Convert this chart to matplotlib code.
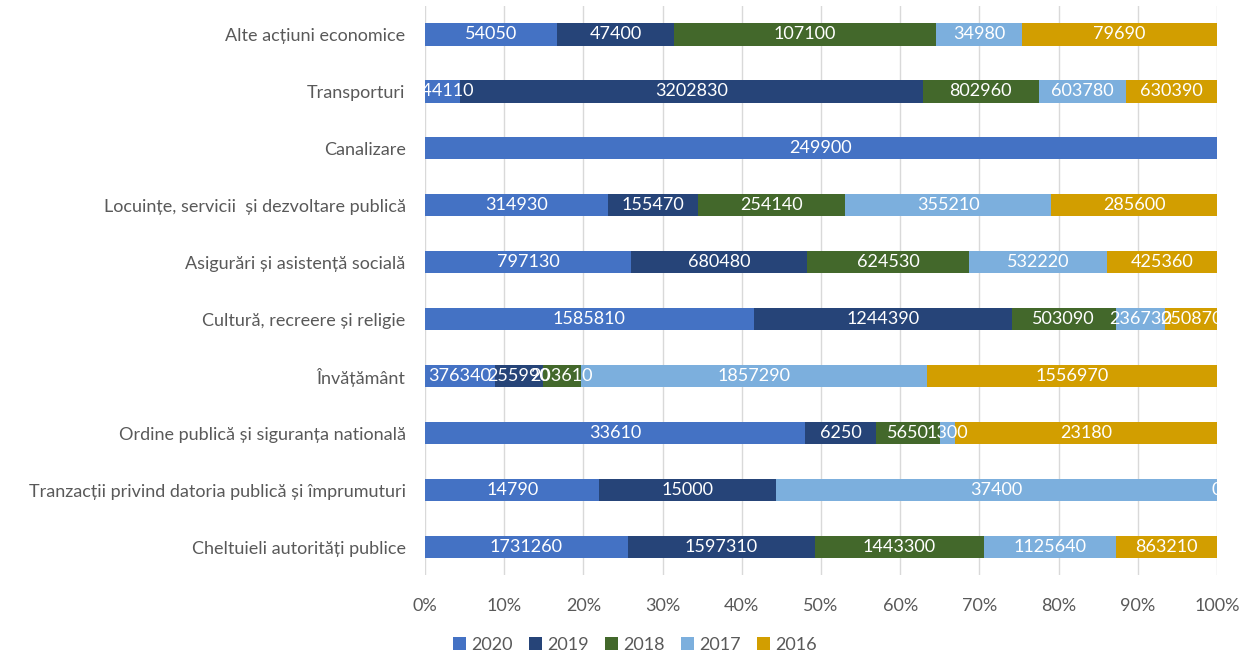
import numpy as np
import matplotlib
matplotlib.use("Agg")
import matplotlib.pyplot as plt

# ----------------------------
# Data (top row first, as in the picture)
# ----------------------------
categories = [
    "Alte acțiuni economice",
    "Transporturi",
    "Canalizare",
    "Locuințe, servicii  și dezvoltare publică",
    "Asigurări și asistență socială",
    "Cultură, recreere și religie",
    "Învățământ",
    "Ordine publică și siguranța natională",
    "Tranzacții privind datoria publică și împrumuturi",
    "Cheltuieli autorități publice",
]
years = ["2020", "2019", "2018", "2017", "2016"]

v2020 = [54050, 244110, 249900, 314930, 797130, 1585810, 376340, 33610, 14790, 1731260]
v2019 = [47400, 3202830, None, 155470, 680480, 1244390, 255990, 6250, 15000, 1597310]
v2018 = [107100, 802960, None, 254140, 624530, 503090, 203610, 5650, None, 1443300]
v2017 = [34980, 603780, None, 355210, 532220, 236730, 1857290, 1300, 37400, 1125640]
v2016 = [79690, 630390, None, 285600, 425360, 250870, 1556970, 23180, 0, 863210]

colors = ["#4472C4", "#264478", "#43682B", "#7CAFDD", "#D29E00"]

# ----------------------------
# Plot styling
# ----------------------------
plt.rcParams["font.family"] = ["Lato", "DejaVu Sans"]
plt.rcParams["font.size"] = 13

fig = plt.figure(figsize=(12.5, 6.58), dpi=100)
ax = fig.add_axes([0.34, 0.1254, 0.6336, 0.8655])

series = [v2020, v2019, v2018, v2017, v2016]
raw = np.array([[np.nan if v is None else v for v in s] for s in series], dtype=float)
totals = np.nansum(raw, axis=0)
ypos = np.arange(len(categories))

left = np.zeros(len(categories))
for i, year in enumerate(years):
    vals = raw[i]
    share = np.nan_to_num(vals) / totals
    ax.barh(ypos, share, left=left, height=0.39, color=colors[i], label=year, zorder=2)
    for j, v in enumerate(vals):
        if np.isnan(v):
            continue
        ax.text(left[j] + share[j] / 2, ypos[j], f"{int(v)}", ha="center", va="center",
                color="white", fontsize=13, clip_on=True, zorder=3)
    left = left + share

ax.set_xlim(0, 1)
ax.set_ylim(len(categories) - 0.5, -0.5)
ax.set_yticks(ypos)
ax.set_yticklabels(categories, color="#595959")
ax.set_xticks(np.linspace(0, 1, 11))
ax.set_xticklabels([f"{int(round(t * 100))}%" for t in np.linspace(0, 1, 11)], color="#595959")
ax.tick_params(axis="y", length=0, pad=14)
ax.tick_params(axis="x", length=0, pad=16)
ax.grid(axis="x", color="#D9D9D9", linewidth=1, zorder=0)
for s in ax.spines.values():
    s.set_visible(False)

handles, labels = ax.get_legend_handles_labels()
fig.legend(handles, labels, loc="center", bbox_to_anchor=(0.508, 0.02), ncol=5,
           frameon=False, handlelength=0.7, handleheight=0.7, handletextpad=0.3,
           columnspacing=0.9, labelcolor="#595959")

fig.savefig("out.png", dpi=100)
